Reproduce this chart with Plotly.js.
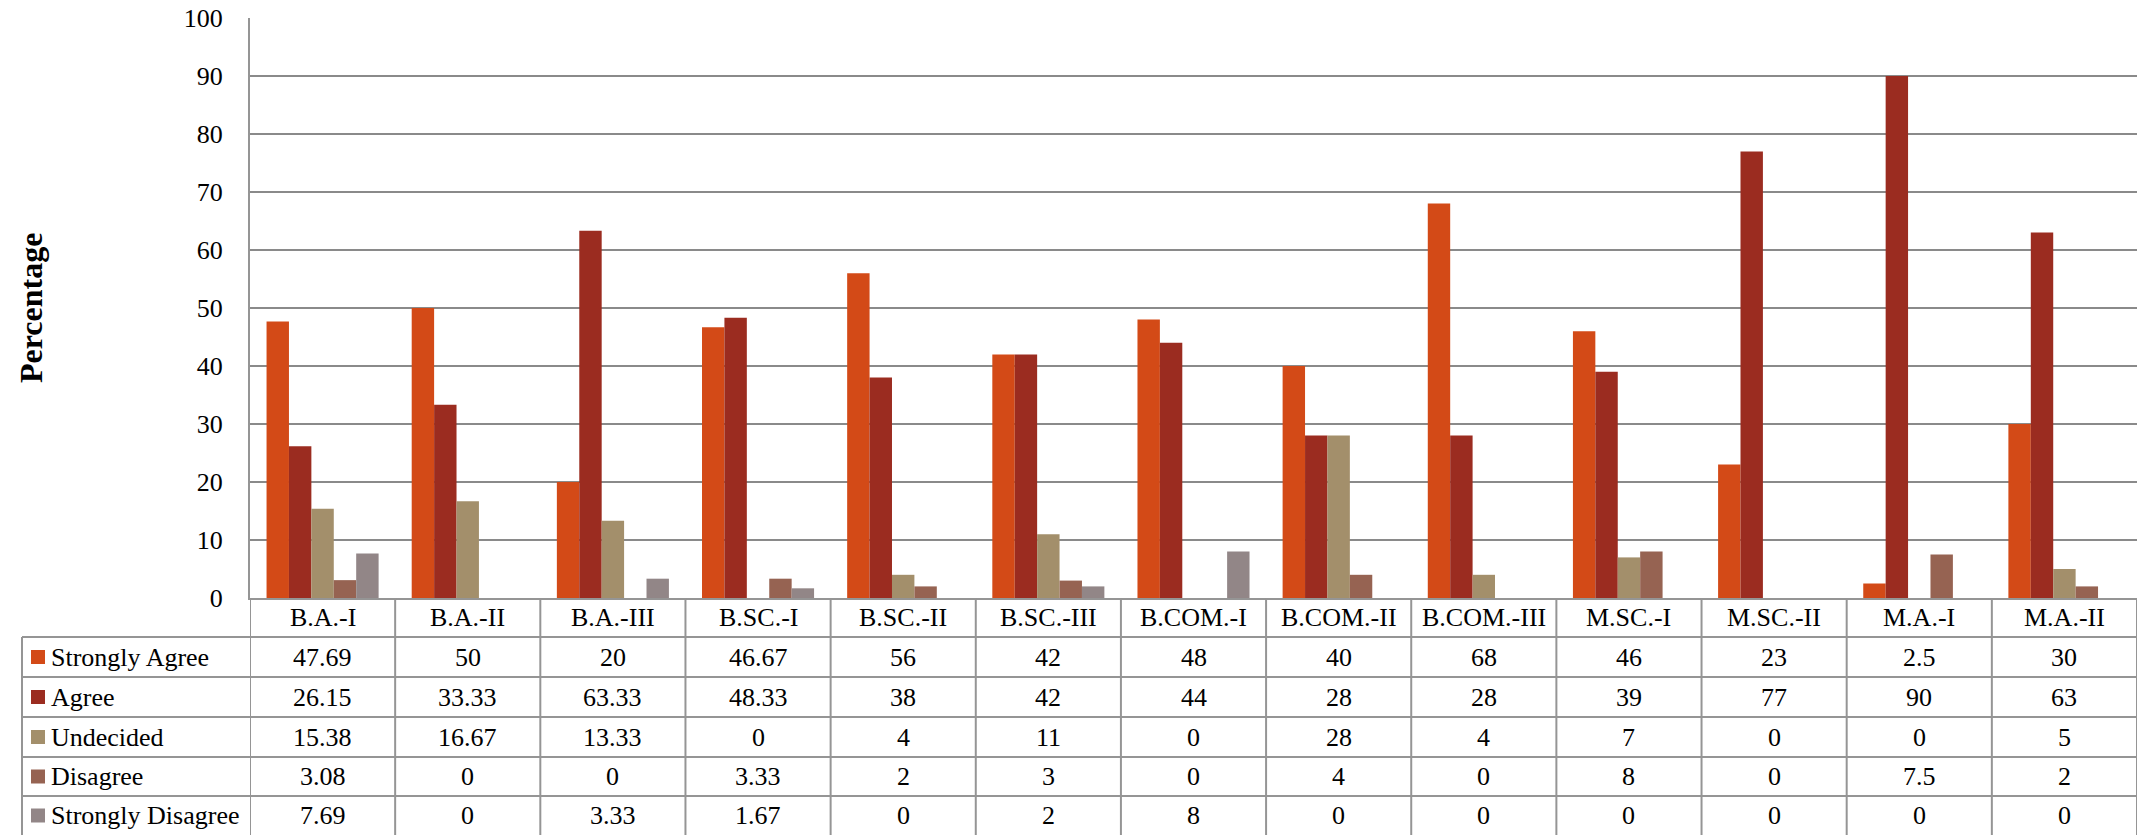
<!DOCTYPE html>
<html>
<head>
<meta charset="utf-8">
<script src="https://cdn.plot.ly/plotly-3.0.1.min.js"></script>
<style>html,body{margin:0;padding:0;background:#fff;}#chart{width:2137px;height:835px;}</style>
</head>
<body>
<div id="chart"></div>
<script>
// ---- data ----
const categories = ['B.A.-I','B.A.-II','B.A.-III','B.SC.-I','B.SC.-II','B.SC.-III','B.COM.-I','B.COM.-II','B.COM.-III','M.SC.-I','M.SC.-II','M.A.-I','M.A.-II'];
const seriesNames = ['Strongly Agree','Agree','Undecided','Disagree','Strongly Disagree'];
const stronglyAgree    = [47.69, 50, 20, 46.67, 56, 42, 48, 40, 68, 46, 23, 2.5, 30];
const agree            = [26.15, 33.33, 63.33, 48.33, 38, 42, 44, 28, 28, 39, 77, 90, 63];
const undecided        = [15.38, 16.67, 13.33, 0, 4, 11, 0, 28, 4, 7, 0, 0, 5];
const disagree         = [3.08, 0, 0, 3.33, 2, 3, 0, 4, 0, 8, 0, 7.5, 2];
const stronglyDisagree = [7.69, 0, 3.33, 1.67, 0, 2, 8, 0, 0, 0, 0, 0, 0];
const yTicks = [0,10,20,30,40,50,60,70,80,90,100];
const yTitle = 'Percentage';

// ---- styles ----
const colors = ['#D34A17','#9B2C20','#A38F6B','#966352','#928687'];
const FONT = 'Liberation Serif, Times New Roman, serif';
const W = 2137, H = 835;
const mL = 250, mR = 0, mT = 18, mB = 237;
const plotH = H - mT - mB, plotW = W - mL - mR;
const py = p => (H - mB - p) / plotH;      // pixel y -> paper y
const px = p => (p - mL) / plotW;          // pixel x -> paper x

const allSeries = [stronglyAgree, agree, undecided, disagree, stronglyDisagree];
const traces = allSeries.map((vals, i) => ({
  type: 'bar', name: seriesNames[i], x: categories, y: vals,
  marker: {color: colors[i], line: {width: 0}},
  hoverinfo: 'x+y+name'
}));

const lineCol = '#959595';
const shapes = [];
const annotations = [];
// table geometry (pixels)
const headerTop = 598, rowEdges = [637, 677, 717, 757, 796, 835];
const tableLeft = 22;

// horizontal table lines
rowEdges.slice(0,5).forEach(p => {
  shapes.push({type:'line', xref:'paper', yref:'paper', x0:px(tableLeft), x1:1, y0:py(p), y1:py(p), line:{color:lineCol, width:2}});
});
// left border of legend column
shapes.push({type:'line', xref:'paper', yref:'paper', x0:px(tableLeft), x1:px(tableLeft), y0:py(637), y1:py(835), line:{color:lineCol, width:2}});
// vertical column separators
for (let i = 0; i <= categories.length; i++) {
  shapes.push({type:'line', xref:'x', yref:'paper', x0:i-0.5, x1:i-0.5, y0:py(headerTop), y1:py(835), line:{color:lineCol, width:2}});
}
// header: category names
categories.forEach((c, i) => {
  annotations.push({xref:'x', yref:'paper', x:i, y:py((headerTop+637)/2), text:c, showarrow:false,
    xanchor:'center', yanchor:'middle', font:{family:FONT, size:26, color:'#000'}});
});
// rows
allSeries.forEach((vals, r) => {
  const yc = py((rowEdges[r] + rowEdges[r+1]) / 2);
  // legend swatch
  shapes.push({type:'rect', xref:'paper', yref:'paper', x0:px(31), x1:px(45), y0:yc-7/plotH, y1:yc+7/plotH, fillcolor:colors[r], line:{width:0}});
  annotations.push({xref:'paper', yref:'paper', x:px(49), y:yc, text:seriesNames[r], showarrow:false,
    xanchor:'left', yanchor:'middle', font:{family:FONT, size:26, color:'#000'}});
  vals.forEach((v, i) => {
    annotations.push({xref:'x', yref:'paper', x:i, y:yc, text:String(v), showarrow:false,
      xanchor:'center', yanchor:'middle', font:{family:FONT, size:26, color:'#000'}});
  });
});
// y-axis title
annotations.push({xref:'paper', yref:'paper', x:px(31), y:py(308), text:'<b>'+yTitle+'</b>', textangle:-90,
  showarrow:false, xanchor:'center', yanchor:'middle', font:{family:FONT, size:32, color:'#000'}});

const layout = {
  width: W, height: H,
  margin: {l: mL, r: mR, t: mT, b: mB, pad: 0},
  paper_bgcolor: '#fff', plot_bgcolor: '#fff',
  barmode: 'group', bargap: 0.228, bargroupgap: 0,
  showlegend: false,
  xaxis: {type:'category', range:[-0.5, categories.length-0.5], showticklabels:false, ticks:'',
    showgrid:false, zeroline:false, showline:true, linecolor:lineCol, linewidth:2, fixedrange:true},
  yaxis: {range:[0,100], tickvals:yTicks, ticks:'', showgrid:true, gridcolor:'#8a8a8a', gridwidth:1.5,
    zeroline:false, showline:true, linecolor:lineCol, linewidth:2, ticklabelstandoff:20,
    tickfont:{family:FONT, size:26, color:'#000'}},
  shapes: shapes,
  annotations: annotations
};

Plotly.newPlot('chart', traces, layout, {displayModeBar:false, staticPlot:true});
</script>
</body>
</html>
